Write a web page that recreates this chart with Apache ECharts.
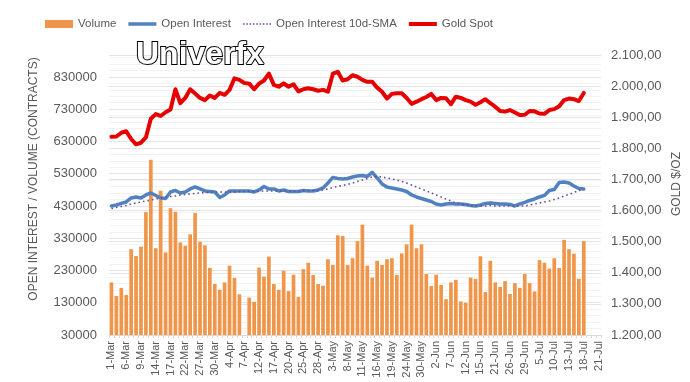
<!DOCTYPE html>
<html>
<head>
<meta charset="utf-8">
<script src="https://cdn.jsdelivr.net/npm/echarts@6/dist/echarts.min.js"></script>
<style>
html,body{margin:0;padding:0;background:#fff;}
#chart{width:690px;height:382px;}
</style>
</head>
<body>
<div id="chart"></div>
<script>
// Categories: trading days 1-Mar .. 21-Jul
const categories = [
 '1-Mar','2-Mar','3-Mar','6-Mar','7-Mar','8-Mar','9-Mar','10-Mar','13-Mar','14-Mar','15-Mar','16-Mar','17-Mar','20-Mar','21-Mar','22-Mar','23-Mar','24-Mar','27-Mar','28-Mar','29-Mar','30-Mar','31-Mar',
 '3-Apr','4-Apr','5-Apr','6-Apr','7-Apr','10-Apr','11-Apr','12-Apr','13-Apr','14-Apr','17-Apr','18-Apr','19-Apr','20-Apr','21-Apr','24-Apr','25-Apr','26-Apr','27-Apr','28-Apr',
 '1-May','2-May','3-May','4-May','5-May','8-May','9-May','10-May','11-May','12-May','15-May','16-May','17-May','18-May','19-May','22-May','23-May','24-May','25-May','26-May','30-May','31-May',
 '1-Jun','2-Jun','5-Jun','6-Jun','7-Jun','8-Jun','9-Jun','12-Jun','13-Jun','14-Jun','15-Jun','16-Jun','20-Jun','21-Jun','22-Jun','23-Jun','26-Jun','27-Jun','28-Jun','29-Jun','30-Jun',
 '3-Jul','5-Jul','6-Jul','7-Jul','10-Jul','11-Jul','12-Jul','13-Jul','14-Jul','17-Jul','18-Jul','19-Jul','20-Jul','21-Jul'
];

const volume = [
 193000,151000,176000,154000,296000,275000,304000,411000,573000,299000,
 477000,286000,423000,412000,317000,307000,342000,408000,319000,308000,
 238000,188000,170000,193000,245000,207000,156000,null,146000,133000,
 239000,211000,273000,188000,170000,229000,166000,217000,148000,234000,
 254000,216000,188000,183000,265000,247000,339000,337000,247000,268000,
 321000,372000,245000,208000,260000,247000,265000,268000,216000,283000,
 311000,372000,299000,311000,219000,182000,217000,185000,141000,193000,
 201000,134000,130000,208000,204000,274000,163000,260000,193000,179000,
 197000,157000,191000,176000,219000,191000,165000,262000,254000,236000,
 268000,238000,325000,296000,282000,204000,321000
];

const openInterest = [
 430000,433000,437800,442400,454800,457900,454800,464100,470300,462600,
 454800,453300,473400,478100,470300,473400,482700,488900,482700,476500,
 475000,473400,456400,464100,476500,476500,476500,476500,476500,473400,
 479600,490500,482700,482700,476500,479600,475000,475000,475000,478100,
 476500,476500,479600,485800,501300,518400,515300,513700,515300,519900,
 523000,524600,521500,533900,516800,498200,488900,485800,482700,479600,
 475000,464100,457900,453300,448600,444000,436200,433100,436200,437800,
 436200,436200,434700,431600,430000,433100,437800,439300,437800,436200,
 436200,434700,430000,436200,440900,447100,451700,457900,462600,478100,
 481200,502900,504400,501300,492000,484300,482700
];

const openInterestSMA = [
 422200,425300,428400,431600,436200,439300,442400,445500,448600,451700,
 454800,457900,459500,461000,464100,465700,467200,468800,470300,471900,
 471900,473400,473400,473400,473400,473400,475000,475000,475000,475000,
 475000,476500,476500,476500,476500,476500,476500,476500,476500,476500,
 478100,478100,478100,479600,482700,487400,490500,493600,496700,501300,
 506000,510600,515300,519900,521500,519900,516800,513700,510600,506000,
 501300,495100,488900,482700,476500,470300,464100,457900,451700,445500,
 439300,436200,433100,431600,430000,430000,430000,431600,430000,430000,
 430000,430000,430000,430000,430000,433100,436200,439300,442400,445500,
 450200,454800,461000,465700,471900,478100,482700
];

const goldSpot = [
 1837,1838,1850,1855,1830,1813,1818,1835,1895,1910,
 1904,1916,1925,1990,1945,1962,1990,1976,1962,1955,
 1970,1962,1978,1972,1988,2025,2020,2010,2008,1990,
 2008,2018,2040,2004,1998,2009,1998,2006,1983,1990,
 1993,1990,1985,1988,1982,2040,2046,2018,2022,2035,
 2030,2020,2014,2014,1995,1982,1960,1975,1977,1977,
 1962,1943,1950,1958,1965,1975,1955,1962,1961,1942,
 1966,1962,1955,1950,1940,1948,1958,1945,1934,1920,
 1918,1923,1915,1907,1908,1920,1919,1912,1911,1923,
 1926,1935,1955,1960,1958,1952,1978
];

const leftTicks = {min: 30000, max: 898000, interval: 100000};
const rightTicks = {min: 1200, max: 2100, interval: 100};

const textColor = '#595959';
const fontFamily = '"Liberation Sans", Arial, sans-serif';

const colors = {volume: '#F0964A', oi: '#5082C0', sma: '#6E4A9E', gold: '#E60000'};

function euro(v) {
  const s = Math.round(v).toString().replace(/\B(?=(\d{3})+(?!\d))/g, '.');
  return s + ',00';
}

const dotIcon = 'path://M0,0h1.6v1.6h-1.6z M3.4,0h1.6v1.6h-1.6z M6.8,0h1.6v1.6h-1.6z M10.2,0h1.6v1.6h-1.6z M13.6,0h1.6v1.6h-1.6z M17,0h1.6v1.6h-1.6z M20.4,0h1.6v1.6h-1.6z M23.8,0h1.6v1.6h-1.6z M27.2,0h1.6v1.6h-1.6z';

const chart = echarts.init(document.getElementById('chart'), null, {renderer: 'canvas'});
chart.setOption({
  animation: false,
  backgroundColor: '#ffffff',
  textStyle: {fontFamily: fontFamily},
  graphic: [{
    type: 'text', left: 135, top: 38, z: 100,
    style: {text: 'Univerfx', fill: '#ffffff', stroke: '#000000', lineWidth: 2,
      font: 'bold 32px "Liberation Sans", Arial, sans-serif'}
  }, {
    type: 'text', x: 34, y: 179, rotation: Math.PI / 2, z: 50,
    style: {text: 'OPEN INTEREST / VOLUME (CONTRACTS)', fill: textColor, align: 'center', verticalAlign: 'middle',
      font: '12px "Liberation Sans", Arial, sans-serif'}
  }, {
    type: 'text', x: 677, y: 184, rotation: Math.PI / 2, z: 50,
    style: {text: 'GOLD $/OZ', fill: textColor, align: 'center', verticalAlign: 'middle',
      font: '12px "Liberation Sans", Arial, sans-serif'}
  }],
  legend: {
    left: 40, top: 13,
    itemWidth: 28, itemHeight: 8, itemGap: 12, symbolKeepAspect: true,
    textStyle: {color: textColor, fontSize: 11.5, fontFamily: fontFamily},
    data: [
      {name: 'Volume', icon: 'rect'},
      {name: 'Open Interest', icon: 'path://M0,0H28V3.5H0Z'},
      {name: 'Open Interest 10d-SMA', icon: dotIcon},
      {name: 'Gold Spot', icon: 'path://M0,0H28V4H0Z'}
    ]
  },
  grid: {left: 109, right: 89, top: 55, bottom: 47},
  xAxis: {
    type: 'category', data: categories, boundaryGap: true,
    axisLine: {lineStyle: {color: '#d9d9d9'}},
    axisTick: {show: true, interval: 0, length: 3, lineStyle: {color: '#d9d9d9'}},
    axisLabel: {rotate: 90, interval: 2, color: textColor, fontSize: 11, margin: 6, fontFamily: fontFamily},
    splitLine: {show: false}
  },
  yAxis: [{
    type: 'value', position: 'left',
    min: leftTicks.min, max: leftTicks.max, interval: leftTicks.interval,
    axisLine: {show: false}, axisTick: {show: false},
    axisLabel: {color: textColor, fontSize: 13, margin: 12, showMaxLabel: false, fontFamily: fontFamily,
      formatter: function (v) { return String(v); }},
    splitLine: {show: true, lineStyle: {color: '#e4e4e4', width: 1}},
    minorTick: {show: false, splitNumber: 5},
    minorSplitLine: {show: true, lineStyle: {color: '#f2f2f2', width: 1}}
  }, {
    type: 'value', position: 'right',
    min: rightTicks.min, max: rightTicks.max, interval: rightTicks.interval,
    axisLine: {show: false}, axisTick: {show: false},
    axisLabel: {color: textColor, fontSize: 13, margin: 10, formatter: euro, fontFamily: fontFamily},
    splitLine: {show: true, lineStyle: {color: '#e4e4e4', width: 1}}
  }],
  series: [{
    name: 'Volume', type: 'bar', yAxisIndex: 0, data: volume,
    itemStyle: {color: colors.volume}, barCategoryGap: '25%'
  }, {
    name: 'Open Interest', type: 'line', yAxisIndex: 0, data: openInterest,
    symbol: 'none', lineStyle: {color: colors.oi, width: 3.5, cap: 'round', join: 'round'},
    itemStyle: {color: colors.oi}
  }, {
    name: 'Open Interest 10d-SMA', type: 'line', yAxisIndex: 0, data: openInterestSMA,
    symbol: 'none', lineStyle: {color: colors.sma, width: 1.6, type: [1.6, 3]},
    itemStyle: {color: colors.sma}
  }, {
    name: 'Gold Spot', type: 'line', yAxisIndex: 1, data: goldSpot,
    symbol: 'none', lineStyle: {color: colors.gold, width: 4, cap: 'round', join: 'round'},
    itemStyle: {color: colors.gold}
  }]
});
</script>
</body>
</html>
